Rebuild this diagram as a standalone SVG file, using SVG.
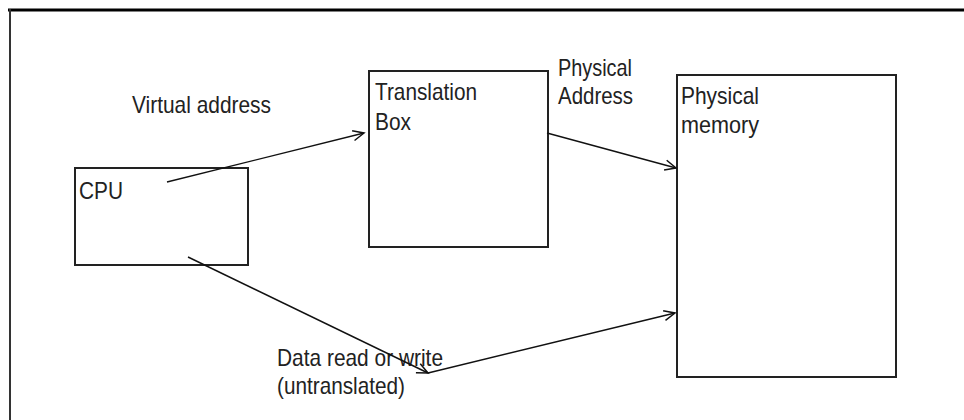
<svg xmlns="http://www.w3.org/2000/svg" width="964" height="420" viewBox="0 0 964 420">
<style>
.box{fill:#fff;stroke:#222;stroke-width:2}
.t{font-family:"Liberation Sans",Arial,sans-serif;font-size:24px;fill:#222}
.c{fill:none;stroke:#111;stroke-width:1.4}
</style>
<defs>
<marker id="ah" markerUnits="userSpaceOnUse" markerWidth="14" markerHeight="14" viewBox="-12 -7 14 14" refX="0" refY="0" orient="auto">
<path d="M-11,-5 L0,0 L-11,5" fill="none" stroke="#111" stroke-width="1.5"/>
</marker>
</defs>
<rect width="964" height="420" fill="#fff"/>
<g id="frame">
<line x1="8" y1="10" x2="964" y2="10" stroke="#000" stroke-width="3"/>
<line x1="10" y1="9" x2="10" y2="420" stroke="#333" stroke-width="2"/>
</g>
<g id="cpu">
<rect class="box" x="75" y="168" width="173" height="97"/>
<text class="t" x="79" y="199" textLength="44" lengthAdjust="spacingAndGlyphs">CPU</text>
</g>
<g id="translation">
<rect class="box" x="369" y="71" width="179" height="176"/>
<text class="t" x="375" y="100" textLength="102" lengthAdjust="spacingAndGlyphs">Translation</text>
<text class="t" x="375" y="130" textLength="36" lengthAdjust="spacingAndGlyphs">Box</text>
</g>
<g id="memory">
<rect class="box" x="677" y="75" width="219" height="302"/>
<text class="t" x="681" y="104" textLength="78" lengthAdjust="spacingAndGlyphs">Physical</text>
<text class="t" x="681" y="133" textLength="78" lengthAdjust="spacingAndGlyphs">memory</text>
</g>
<g id="labels">
<text class="t" x="132" y="113" textLength="139" lengthAdjust="spacingAndGlyphs">Virtual address</text>
<text class="t" x="558" y="76" textLength="74" lengthAdjust="spacingAndGlyphs">Physical</text>
<text class="t" x="558" y="104" textLength="75" lengthAdjust="spacingAndGlyphs">Address</text>
<text class="t" x="277" y="366" textLength="166" lengthAdjust="spacingAndGlyphs">Data read or write</text>
<text class="t" x="277" y="394" textLength="128" lengthAdjust="spacingAndGlyphs">(untranslated)</text>
</g>
<g id="connectors">
<line class="c" x1="167" y1="182" x2="364" y2="133" marker-end="url(#ah)"/>
<line class="c" x1="547" y1="133" x2="676" y2="168" marker-end="url(#ah)"/>
<line class="c" x1="188" y1="257" x2="428" y2="373" marker-end="url(#ah)"/>
<line class="c" x1="428" y1="373" x2="675" y2="313" marker-end="url(#ah)"/>
</g>
</svg>
